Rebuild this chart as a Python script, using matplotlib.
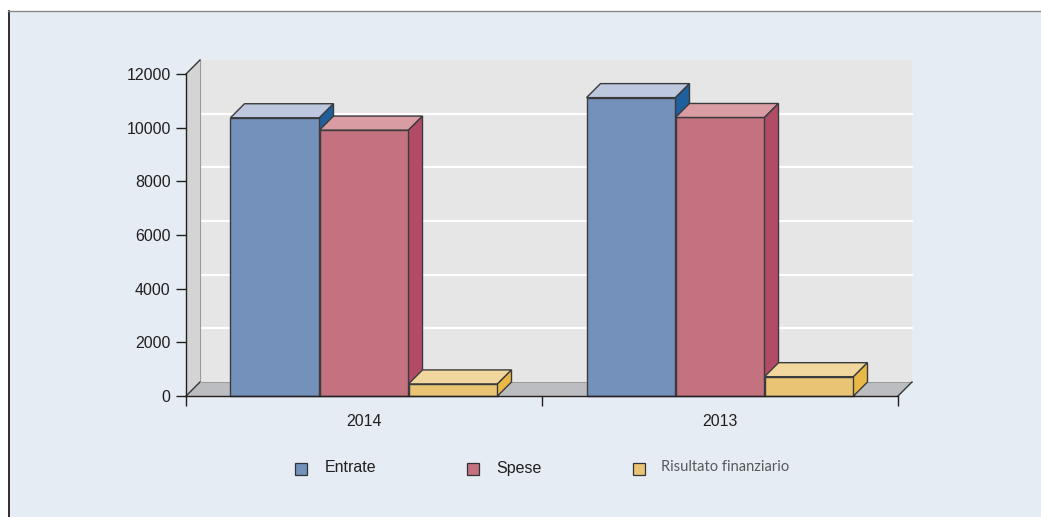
import matplotlib.pyplot as plt
import matplotlib.patches as mpatches
from matplotlib.lines import Line2D
import numpy as np

# bilancio: entrate, spese e risultato finanziario per anno
years = ['2014', '2013']
entrate = [10370, 11120]
spese = [9910, 10380]
risultato = [450, 720]
series_names = ['Entrate', 'Spese', 'Risultato finanziario']
y_ticks = [0, 2000, 4000, 6000, 8000, 10000, 12000]

# front / top / side colours of each series
face_cols = ['#7491bb', '#c4727f', '#e8c474']
top_cols = ['#bdc8df', '#d99ca3', '#f1d79d']
side_cols = ['#1f5f9b', '#b24c66', '#e9b946']

W, H = 1041, 517
fig = plt.figure(figsize=(W / 100, H / 100), dpi=100)
fig.patch.set_facecolor('white')

# light blue panel with its border
fig.add_artist(mpatches.Rectangle((8 / W, 0), 1 - 8 / W, (H - 10.5) / H,
                                  transform=fig.transFigure,
                                  facecolor='#e5ecf4', edgecolor='none', zorder=0))
fig.add_artist(Line2D([8.5 / W, 8.5 / W], [0, (H - 10.5) / H], transform=fig.transFigure,
                      color='#231f20', lw=1.3))
fig.add_artist(Line2D([8 / W, 1], [(H - 10.5) / H] * 2, transform=fig.transFigure,
                      color='#8a8a8a', lw=1.0))

ax = fig.add_axes([186 / W, 121 / H, 712 / W, 322 / H])
ax.set_xlim(-0.5, 1.5)
ax.set_ylim(0, 12000)
ax.patch.set_visible(False)

# depth of the pseudo-3d box, in pixels, converted to data units
depth_px = 14
ddx = depth_px * 2.0 / 712
ddy = depth_px * 12000.0 / 322

x0, x1 = -0.5, 1.5
ytop = 12000

# back wall
ax.add_patch(mpatches.Rectangle((x0 + ddx, ddy), x1 - x0, ytop, facecolor='#e6e6e7',
                                edgecolor='none', clip_on=False, zorder=1))
for v in y_ticks[1:-1]:
    ax.plot([x0 + ddx, x1 + ddx], [v + ddy, v + ddy], color='white', lw=1.6,
            clip_on=False, zorder=1.5)
ax.plot([x0 + ddx, x0 + ddx], [ddy, ytop + ddy], color='#9a9a9a', lw=0.8, clip_on=False, zorder=1.6)

# left wall
ax.add_patch(mpatches.Polygon([(x0, 0), (x0 + ddx, ddy), (x0 + ddx, ytop + ddy), (x0, ytop)],
                              closed=True, facecolor='#d4d4d5', edgecolor='none',
                              clip_on=False, zorder=2))
ax.plot([x0, x0 + ddx], [ytop, ytop + ddy], color='#333333', lw=1.0, clip_on=False, zorder=2.1)
ax.plot([x0, x0 + ddx], [0, ddy], color='#333333', lw=1.0, clip_on=False, zorder=2.1)

# floor
ax.add_patch(mpatches.Polygon([(x0, 0), (x1, 0), (x1 + ddx, ddy), (x0 + ddx, ddy)],
                              closed=True, facecolor='#bcbdc0', edgecolor='none',
                              clip_on=False, zorder=2))
ax.plot([x0 + ddx, x1 + ddx], [ddy, ddy], color='#9a9a9a', lw=0.7, clip_on=False, zorder=2.1)
ax.plot([x1, x1 + ddx], [0, ddy], color='#333333', lw=1.0, clip_on=False, zorder=2.1)

# 3d bars, drawn left to right so nearer faces cover the ones behind
bw = 0.25
offsets = [-0.375, -0.125, 0.125]
values = [entrate, spese, risultato]
z = 3
for gi in range(len(years)):
    for si in range(3):
        v = values[si][gi]
        left = gi + offsets[si]
        right = left + bw
        ec = '#3b3b3d'
        ax.add_patch(mpatches.Rectangle((left, 0), bw, v, facecolor=face_cols[si],
                                        edgecolor=ec, lw=1.0, clip_on=False, zorder=z))
        ax.add_patch(mpatches.Polygon([(left, v), (right, v), (right + ddx, v + ddy), (left + ddx, v + ddy)],
                                      closed=True, facecolor=top_cols[si], edgecolor=ec, lw=1.0,
                                      clip_on=False, zorder=z))
        ax.add_patch(mpatches.Polygon([(right, 0), (right + ddx, ddy), (right + ddx, v + ddy), (right, v)],
                                      closed=True, facecolor=side_cols[si], edgecolor=ec, lw=1.0,
                                      clip_on=False, zorder=z))
        z += 0.1

# axes
for s in ['top', 'right']:
    ax.spines[s].set_visible(False)
for s in ['left', 'bottom']:
    ax.spines[s].set_color('#231f20')
    ax.spines[s].set_linewidth(1.0)
    ax.spines[s].set_zorder(10)

ax.set_yticks(y_ticks)
ax.set_yticklabels([str(t) for t in y_ticks], fontsize=11.5, family='Liberation Sans', color='#231f20')
ax.set_yticks(np.arange(0, 12001, 400), minor=True)
ax.tick_params(axis='y', which='major', length=7, width=1.0, color='#231f20', pad=4)
ax.tick_params(axis='y', which='minor', direction='in', length=2, width=0.6, color='#777777')

ax.set_xticks([-0.5, 0.5, 1.5])
ax.set_xticklabels(['', '', ''])
ax.set_xticks([0, 1], minor=True)
ax.set_xticklabels(years, minor=True, fontsize=11.5, family='Liberation Sans', color='#231f20')
ax.tick_params(axis='x', which='major', length=7, width=1.0, color='#231f20')
ax.tick_params(axis='x', which='minor', length=0, pad=13)

# legend
leg_box = [295, 467, 633]
leg_txt = [325, 496, 661]
for i, name in enumerate(series_names):
    fig.add_artist(mpatches.Rectangle((leg_box[i] / W, (H - 474.5) / H), 12 / W, 12 / H,
                                      transform=fig.transFigure, facecolor=face_cols[i],
                                      edgecolor='#333333', lw=0.9))
    if i < 2:
        fig.text(leg_txt[i] / W, (H - 468) / H, name, fontsize=11.5, family='Liberation Sans',
                 color='#231f20', va='center', ha='left')
    else:
        fig.text(leg_txt[i] / W, (H - 467) / H, name, fontsize=10.5, family='Lato',
                 color='#58595b', va='center', ha='left')

fig.savefig('out.png', dpi=100)
